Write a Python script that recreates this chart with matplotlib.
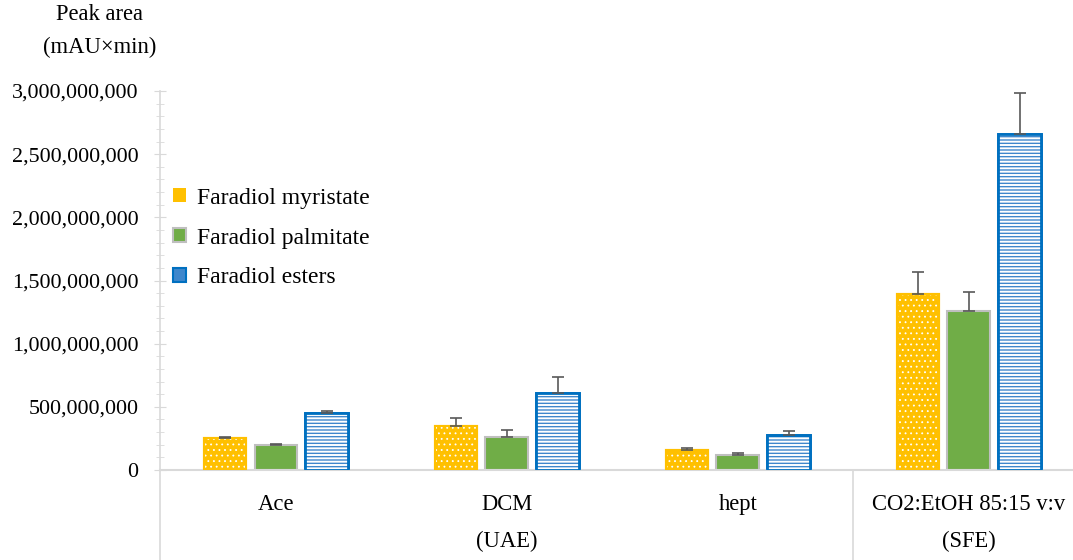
import numpy as np
import matplotlib
matplotlib.use('Agg')
import matplotlib.pyplot as plt
from matplotlib.ticker import FuncFormatter, MultipleLocator
from matplotlib.patches import Patch
from matplotlib.transforms import blended_transform_factory

# data (peak area, mAU x min)
categories = ['Ace', 'DCM', 'hept', 'CO2:EtOH 85:15 v:v']
myristate = [250e6, 348e6, 161e6, 1395e6]
myristate_err = [8e6, 65e6, 10e6, 170e6]
palmitate = [200e6, 264e6, 121e6, 1259e6]
palmitate_err = [6e6, 55e6, 15e6, 152e6]
esters = [455e6, 609e6, 279e6, 2657e6]
esters_err = [15e6, 125e6, 30e6, 325e6]
series_names = ['Faradiol myristate', 'Faradiol palmitate', 'Faradiol esters']

plt.rcParams['font.family'] = ['Liberation Serif', 'DejaVu Serif']

fig = plt.figure(figsize=(10.73, 5.6), dpi=100)
ax = fig.add_axes([0.1495, 0.1607, 0.861, 0.6768])

x = np.arange(len(categories))
w = 0.185
step = 0.22
yellow = '#FFC000'
green = '#70AD47'
blue = '#0070C0'
errc = '#595959'
fs = 16.3

def errs(e):
    return [np.zeros(len(e)), e]

# myristate: yellow with white dotted pattern
plt.rcParams['hatch.linewidth'] = 0.6
ax.bar(x - step, myristate, w, color=yellow, edgecolor=yellow, linewidth=1.5, zorder=2)
ax.bar(x - step, myristate, w, facecolor='none', edgecolor='white', hatch='...', linewidth=0, zorder=3)
ax.bar(x - step, myristate, w, facecolor='none', edgecolor=yellow, linewidth=1.5, zorder=4)
ax.errorbar(x - step, myristate, yerr=errs(myristate_err), fmt='none', ecolor=errc,
            elinewidth=1.2, capsize=4, capthick=1.2, zorder=5)

# palmitate: green, gray edge
ax.bar(x, palmitate, w, color=green, edgecolor='#BFBFBF', linewidth=1.5, zorder=2)
ax.errorbar(x, palmitate, yerr=errs(palmitate_err), fmt='none', ecolor=errc,
            elinewidth=1.2, capsize=4, capthick=1.2, zorder=5)

# esters: blue horizontal stripes
plt.rcParams['hatch.linewidth'] = 1.4
ax.bar(x + step, esters, w, color='#3F87CC', edgecolor=blue, linewidth=2, zorder=2)
ax.bar(x + step, esters, w, facecolor='none', edgecolor='white', hatch='-----', linewidth=0, zorder=3)
ax.bar(x + step, esters, w, facecolor='none', edgecolor=blue, linewidth=2, zorder=4)
ax.errorbar(x + step, esters, yerr=errs(esters_err), fmt='none', ecolor=errc,
            elinewidth=1.2, capsize=4, capthick=1.2, zorder=5)

ax.set_xlim(-0.5, 3.5)
ax.set_ylim(0, 3e9)
ax.yaxis.set_major_locator(MultipleLocator(5e8))
ax.yaxis.set_minor_locator(MultipleLocator(1e8))
ax.yaxis.set_major_formatter(FuncFormatter(lambda v, p: '{:,.0f}'.format(v)))
ax.tick_params(axis='y', which='major', direction='inout', length=8, color='#D9D9D9',
               labelsize=15.8, pad=12)
ax.tick_params(axis='y', which='minor', direction='inout', length=6, color='#D9D9D9')
ax.set_xticks([])
for s in ['top', 'right']:
    ax.spines[s].set_visible(False)
ax.spines['left'].set_color('#D9D9D9')
ax.spines['bottom'].set_color('#D9D9D9')
ax.spines['left'].set_linewidth(1.2)
ax.spines['bottom'].set_linewidth(1.5)

# category labels and group separators below axis
tr = blended_transform_factory(ax.transData, ax.transAxes)
for i, c in enumerate(categories):
    ax.text(x[i], -0.09, c, transform=tr, ha='center', va='center', fontsize=fs)
ax.text(1, -0.188, '(UAE)', transform=tr, ha='center', va='center', fontsize=fs)
ax.text(3, -0.188, '(SFE)', transform=tr, ha='center', va='center', fontsize=fs)
for xv in [-0.5, 2.5]:
    ax.plot([xv, xv], [0, -0.4], transform=tr, color='#D9D9D9', lw=1.2, clip_on=False)

fig.text(0.093, 0.975, 'Peak area', ha='center', va='center', fontsize=fs)
fig.text(0.093, 0.915, '(mAU\u00d7min)', ha='center', va='center', fontsize=fs)

handles = [Patch(facecolor=yellow, edgecolor=yellow, linewidth=0),
           Patch(facecolor=green, edgecolor='#BFBFBF', linewidth=1.5),
           Patch(facecolor='#3F87CC', edgecolor=blue, linewidth=1.5)]
ax.legend(handles, series_names, loc='upper left', bbox_to_anchor=(0.014, 0.745),
          frameon=False, fontsize=17, handlelength=0.55, handleheight=0.55,
          handletextpad=0.45, labelspacing=0.8, borderpad=0, borderaxespad=0)

fig.savefig('out.png', dpi=100)
